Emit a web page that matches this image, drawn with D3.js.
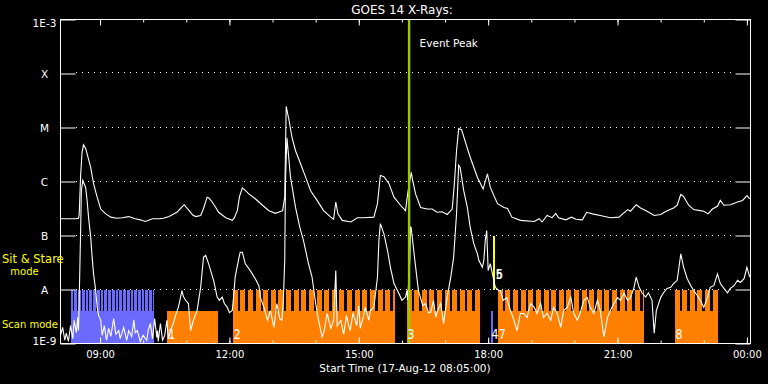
<!DOCTYPE html>
<html>
<head>
<meta charset="utf-8">
<script src="https://cdn.jsdelivr.net/npm/d3@7"></script>
<style>
  html, body { margin: 0; padding: 0; background: #000; }
  svg { display: block; }
</style>
</head>
<body>
<div id="chart"></div>
<script>
// GOES 14 X-ray flux, 17-Aug-12
// time = minutes after 08:05 UT, value = log10(flux W/m^2)
const startTime = Date.UTC(2012, 7, 17, 8, 5);
const spanMinutes = 960;

const longChannel = [
  [0,-6.69],[7,-6.69],[14,-6.69],[21,-6.69],[25,-6.68],[26,-6.61],[28,-5.89],[30,-5.46],[32,-5.32],[35,-5.39],
  [37,-5.49],[42,-5.74],[46,-6.04],[51,-6.29],[56,-6.51],[63,-6.60],[70,-6.66],[78,-6.68],[86,-6.67],[95,-6.65],
  [104,-6.69],[111,-6.71],[118,-6.74],[128,-6.69],[137,-6.69],[143,-6.68],[151,-6.65],[162,-6.57],[167,-6.50],[172,-6.43],
  [179,-6.54],[184,-6.62],[188,-6.65],[195,-6.63],[199,-6.50],[204,-6.29],[207,-6.31],[211,-6.38],[216,-6.48],[220,-6.57],
  [230,-6.67],[239,-6.72],[242,-6.67],[246,-6.54],[249,-6.28],[253,-6.12],[256,-6.15],[262,-6.23],[271,-6.32],[281,-6.44],
  [290,-6.54],[299,-6.59],[309,-6.54],[312,-6.29],[313,-5.43],[314,-4.61],[318,-4.87],[322,-5.18],[327,-5.43],[334,-5.67],
  [341,-5.92],[348,-6.17],[357,-6.35],[366,-6.54],[376,-6.66],[380,-6.70],[383,-6.38],[386,-6.60],[392,-6.72],[404,-6.75],
  [413,-6.67],[422,-6.67],[436,-6.66],[441,-6.41],[445,-5.89],[450,-5.91],[457,-6.04],[464,-6.29],[473,-6.44],[480,-6.54],
  [483,-6.23],[488,-5.83],[490,-5.98],[494,-6.23],[501,-6.48],[510,-6.51],[517,-6.51],[524,-6.57],[531,-6.56],[538,-6.61],
  [545,-6.51],[548,-6.04],[551,-5.43],[554,-5.02],[558,-5.04],[564,-5.30],[570,-5.55],[580,-5.92],[588,-6.14],[594,-5.86],
  [598,-6.11],[608,-6.41],[617,-6.48],[622,-6.50],[628,-6.66],[640,-6.72],[659,-6.74],[666,-6.69],[670,-6.75],[677,-6.63],
  [684,-6.67],[689,-6.59],[693,-6.67],[703,-6.71],[711,-6.66],[717,-6.70],[726,-6.71],[732,-6.57],[740,-6.60],[751,-6.63],
  [765,-6.67],[777,-6.66],[789,-6.52],[793,-6.55],[801,-6.43],[807,-6.49],[816,-6.55],[826,-6.63],[835,-6.61],[844,-6.54],
  [853,-6.49],[858,-6.44],[863,-6.24],[867,-6.28],[874,-6.44],[881,-6.52],[890,-6.54],[895,-6.55],[901,-6.60],[907,-6.51],
  [914,-6.46],[918,-6.35],[923,-6.44],[932,-6.43],[942,-6.38],[949,-6.35],[955,-6.26],[959,-6.32]
];

const shortChannel = [
  [0,-8.85],[3,-8.70],[6,-8.94],[8,-8.81],[11,-8.96],[14,-8.67],[17,-8.91],[19,-8.57],[22,-8.80],[24,-8.52],
  [25,-8.76],[26,-8.20],[28,-6.91],[29,-6.17],[31,-5.98],[35,-6.11],[37,-6.35],[39,-6.66],[42,-7.03],[44,-7.40],
  [46,-7.71],[49,-8.02],[51,-8.33],[53,-8.48],[56,-8.57],[58,-8.85],[61,-8.67],[64,-8.94],[67,-8.72],[70,-8.87],
  [74,-8.54],[77,-8.83],[81,-8.76],[83,-8.91],[88,-8.70],[92,-8.94],[95,-8.76],[99,-8.87],[102,-8.56],[104,-8.80],
  [107,-8.76],[111,-8.96],[115,-8.85],[120,-8.94],[122,-8.76],[125,-8.63],[128,-8.91],[131,-8.54],[134,-8.89],[135,-8.76],
  [136,-8.96],[139,-8.63],[142,-8.94],[145,-8.85],[148,-8.57],[150,-8.91],[153,-8.76],[157,-8.63],[160,-8.48],[164,-8.33],
  [169,-8.02],[171,-8.13],[174,-8.20],[178,-8.26],[181,-8.76],[185,-8.57],[190,-8.39],[195,-7.96],[199,-7.40],[202,-7.37],
  [206,-7.52],[213,-7.83],[218,-8.14],[221,-8.20],[225,-8.14],[228,-8.26],[232,-8.33],[235,-8.43],[239,-8.39],[241,-8.11],
  [243,-7.77],[248,-7.43],[250,-7.31],[253,-7.31],[257,-7.52],[264,-7.65],[271,-7.80],[276,-7.93],[278,-8.14],[283,-8.33],
  [288,-8.57],[292,-8.39],[297,-8.70],[301,-8.26],[305,-8.54],[308,-8.57],[310,-8.20],[312,-7.46],[313,-5.98],[315,-5.19],
  [316,-5.33],[320,-5.92],[327,-6.48],[333,-6.85],[338,-7.09],[345,-7.52],[350,-7.77],[355,-8.26],[359,-8.57],[364,-8.88],
  [367,-8.76],[371,-8.44],[376,-8.72],[380,-8.57],[383,-7.65],[385,-8.67],[390,-8.57],[394,-8.83],[398,-8.48],[401,-8.67],
  [403,-8.76],[407,-8.43],[412,-8.67],[415,-8.30],[417,-8.72],[422,-8.48],[424,-8.33],[429,-8.57],[431,-8.39],[436,-8.33],
  [441,-7.77],[443,-7.09],[445,-6.78],[450,-6.97],[455,-7.28],[459,-7.59],[464,-7.89],[471,-8.08],[475,-8.20],[480,-8.14],
  [482,-8.02],[483,-8.20],[486,-7.46],[487,-6.83],[488,-6.87],[493,-7.46],[498,-8.02],[504,-8.30],[508,-8.26],[512,-8.43],
  [515,-8.42],[519,-8.20],[522,-8.51],[526,-8.35],[529,-8.26],[533,-8.63],[538,-8.14],[543,-7.77],[547,-7.40],[551,-6.60],
  [554,-5.70],[556,-5.74],[561,-6.17],[566,-6.48],[570,-6.85],[575,-7.15],[580,-7.34],[582,-7.46],[587,-7.59],[589,-7.46],
  [591,-7.09],[593,-6.91],[595,-7.65],[598,-7.52],[600,-7.65],[605,-7.96],[610,-8.02],[612,-8.02],[616,-8.20],[621,-8.15],
  [626,-8.39],[631,-8.57],[635,-8.76],[640,-8.44],[645,-8.45],[649,-8.52],[654,-8.26],[659,-8.33],[663,-8.44],[668,-8.26],
  [672,-8.52],[677,-8.44],[682,-8.57],[686,-8.33],[691,-8.44],[696,-8.70],[700,-8.39],[705,-8.33],[710,-8.14],[714,-8.44],
  [719,-8.57],[723,-8.44],[728,-8.20],[733,-8.15],[737,-8.33],[742,-8.44],[747,-8.20],[751,-8.39],[756,-8.88],[761,-8.52],
  [765,-8.39],[770,-8.26],[775,-8.15],[779,-8.20],[784,-8.07],[789,-8.20],[793,-8.15],[798,-7.96],[801,-7.77],[805,-7.96],
  [809,-8.06],[814,-8.14],[818,-8.06],[823,-8.20],[826,-8.81],[829,-8.39],[835,-8.15],[839,-8.06],[844,-7.98],[849,-7.96],
  [853,-7.89],[858,-7.83],[863,-7.34],[867,-7.59],[872,-7.80],[877,-7.93],[881,-8.02],[886,-8.11],[890,-8.20],[895,-8.33],
  [900,-8.15],[904,-7.96],[909,-7.93],[914,-7.71],[918,-7.89],[923,-7.98],[928,-8.06],[932,-7.98],[937,-7.93],[942,-7.83],
  [946,-7.87],[951,-7.80],[955,-7.59],[959,-7.77]
];

const yTickValues = [1e-9, 1e-8, 1e-7, 1e-6, 1e-5, 1e-4, 1e-3];
const yTickLabels = ['1E-9', 'A', 'B', 'C', 'M', 'X', '1E-3'];
const gridLevels = [1e-8, 1e-7, 1e-6, 1e-5, 1e-4];
const xTickLabels = ['09:00', '12:00', '15:00', '18:00', '21:00', '00:00'];

const eventPeak = 485; // minutes after start

// scan-mode observations: [label, group, start, end, raster cadence, raster dwell] (minutes)
const scanObs = [
  ['',  'a', 14,    130,   5.2,  4.0],
  ['1', 'b', 148.5, 219.5, 0,    0],
  ['2', 'b', 239.7, 464.7, 10.6, 7],
  ['3', 'b', 481.4, 584.3, 10.6, 7],
  ['4', 'a', 598.3, 602,   0,    0],
  ['7', 'b', 608.4, 812.5, 10.6, 7],
  ['8', 'b', 854.3, 914.1, 10.6, 7]
];
// sit & stare observations: [label, start, end]
const stareObs = [
  ['5', 601.4, 604.4],
  ['6', 602.2, 605.2]
];

const width = 768, height = 384;
const plotLeft = 60.5, plotRight = 750.5, plotTop = 19.5, plotBottom = 343.5;

const toDate = m => new Date(startTime + m * 60000);

const svg = d3.select('#chart').append('svg')
    .attr('width', width)
    .attr('height', height)
    .style('background', '#000');

const x = d3.scaleUtc()
    .domain([toDate(0), toDate(spanMinutes)])
    .range([plotLeft, plotRight]);

const y = d3.scaleLog()
    .domain([1e-9, 1e-3])
    .range([plotBottom, plotTop]);

// pixel-snapped x position for the mode bars
const px = m => Math.round(x(toDate(m)));

const groupColor = d3.scaleOrdinal().domain(['a', 'b']).range(['#6a6aff', '#ff8000']);

// mode band: rasters between A level and split, solid scan bar below
const bandTop = Math.round(y(1e-8));
const bandBottom = Math.round(y(1e-9));
const bandSplit = bandBottom - 33;

const font = '"DejaVu Sans", sans-serif';

svg.append('defs').append('clipPath').attr('id', 'plot-clip')
    .append('rect')
    .attr('x', plotLeft).attr('y', plotTop)
    .attr('width', plotRight - plotLeft).attr('height', plotBottom - plotTop);

// Scan mode bars
const obsG = svg.append('g').attr('shape-rendering', 'crispEdges');
scanObs.forEach(([label, group, s, e, cadence, dwell]) => {
    const full = cadence > 0;
    obsG.append('rect')
        .attr('x', px(s))
        .attr('y', full ? bandTop : bandSplit)
        .attr('width', px(e) - px(s))
        .attr('height', bandBottom - (full ? bandTop : bandSplit))
        .attr('fill', groupColor(group));
    if (full) {
        // dark gaps between consecutive rasters
        const gaps = d3.range(s, e, cadence).map(d => d + dwell).filter(d => d < e);
        obsG.selectAll(null)
            .data(gaps)
            .enter()
            .append('rect')
            .attr('x', d => px(d))
            .attr('y', bandTop)
            .attr('width', d => Math.max(px(Math.min(d + cadence - dwell, e)) - px(d), 1))
            .attr('height', bandSplit - bandTop)
            .attr('fill', '#000');
    }
});

// Sit & stare bars
stareObs.forEach(([label, s, e]) => {
    obsG.append('rect')
        .attr('x', px(s))
        .attr('y', Math.round(y(1e-7)))
        .attr('width', Math.max(px(e) - px(s), 1))
        .attr('height', bandTop - Math.round(y(1e-7)))
        .attr('fill', '#ffff00');
});

// Dotted grid lines
svg.append('g')
    .selectAll('line')
    .data(gridLevels)
    .enter()
    .append('line')
    .attr('x1', plotLeft + 15.5)
    .attr('x2', plotRight - 15)
    .attr('y1', d => Math.round(y(d)) - 0.5)
    .attr('y2', d => Math.round(y(d)) - 0.5)
    .attr('stroke', '#fff')
    .attr('stroke-width', 1)
    .attr('stroke-dasharray', '1 5');

// Flux curves
const line = d3.line()
    .x(d => x(toDate(d[0])))
    .y(d => y(Math.pow(10, d[1])));

const curves = svg.append('g').attr('clip-path', 'url(#plot-clip)');
[shortChannel, longChannel].forEach(series => {
    curves.append('path')
        .datum(series)
        .attr('fill', 'none')
        .attr('stroke', '#fff')
        .attr('stroke-width', 1.1)
        .attr('d', line);
});

// Event peak
svg.append('line')
    .attr('x1', x(toDate(eventPeak)))
    .attr('x2', x(toDate(eventPeak)))
    .attr('y1', plotTop)
    .attr('y2', plotBottom)
    .attr('stroke', '#99cc00')
    .attr('stroke-width', 2.4);

svg.append('text')
    .attr('x', x(toDate(eventPeak)) + 10.5)
    .attr('y', 46.5)
    .attr('font-family', font)
    .attr('font-size', '10.5px')
    .attr('fill', '#fff')
    .text('Event Peak');

// Observation numbers (narrow digits, like the plotting font)
const labelG = svg.append('g')
    .attr('font-family', font)
    .attr('font-size', '14px')
    .attr('fill', '#fff');
scanObs.filter(d => d[0]).forEach(([label, group, s]) => {
    labelG.append('text')
        .attr('transform', `translate(${x(toDate(s)) + 1},${plotBottom - 4.5}) scale(0.78,1)`)
        .text(label);
});
stareObs.forEach(([label, s, e]) => {
    labelG.append('text')
        .attr('transform', `translate(${x(toDate(e)) + 0.5},${y(1e-8) - 11}) scale(0.78,1)`)
        .text(label);
});

// Frame
svg.append('rect')
    .attr('x', plotLeft).attr('y', plotTop)
    .attr('width', plotRight - plotLeft).attr('height', plotBottom - plotTop)
    .attr('fill', 'none')
    .attr('stroke', '#fff')
    .attr('stroke-width', 1);

// Time axes
const majorTicks = xTickLabels.map(lbl => {
    const [hh, mm] = lbl.split(':').map(Number);
    let t = Date.UTC(2012, 7, 17, hh, mm);
    if (t < startTime) t += 86400000;
    return new Date(t);
});
const hourTicks = d3.utcHour.range(toDate(0), toDate(spanMinutes));

function styleAxis(g) {
    g.select('.domain').remove();
    g.attr('color', '#fff');
}

svg.append('g').attr('transform', `translate(0,${plotBottom})`)
    .call(d3.axisBottom(x).tickValues(hourTicks).tickSize(-3).tickFormat(''))
    .call(styleAxis);
svg.append('g').attr('transform', `translate(0,${plotTop})`)
    .call(d3.axisTop(x).tickValues(hourTicks).tickSize(-3).tickFormat(''))
    .call(styleAxis);
svg.append('g').attr('transform', `translate(0,${plotTop})`)
    .call(d3.axisTop(x).tickValues(majorTicks).tickSize(-6).tickFormat(''))
    .call(styleAxis);
svg.append('g').attr('transform', `translate(0,${plotBottom})`)
    .call(d3.axisBottom(x).tickValues(majorTicks).tickSize(-6).tickPadding(7)
        .tickFormat((d, i) => xTickLabels[i]))
    .call(styleAxis)
    .call(g => g.selectAll('text')
        .attr('font-family', font)
        .attr('font-size', '10px'));

// Flux axes
svg.append('g').attr('transform', `translate(${plotLeft},0)`)
    .call(d3.axisLeft(y).tickValues(yTickValues).tickSize(-15)
        .tickFormat((d, i) => yTickLabels[i]))
    .call(styleAxis)
    .call(g => g.selectAll('text')
        .attr('font-family', font)
        .attr('font-size', '10.5px')
        .attr('text-anchor', 'middle')
        .attr('x', -16)
        .attr('dy', (d, i) => i === 0 ? '0.05em' : i === yTickValues.length - 1 ? '0.65em' : '0.35em'));
svg.append('g').attr('transform', `translate(${plotRight},0)`)
    .call(d3.axisRight(y).tickValues(yTickValues).tickSize(-15).tickFormat(''))
    .call(styleAxis);

// Titles
svg.append('text')
    .attr('x', 402)
    .attr('y', 14)
    .attr('text-anchor', 'middle')
    .attr('font-family', font)
    .attr('font-size', '12px')
    .attr('fill', '#fff')
    .text('GOES 14 X-Rays:');

svg.append('text')
    .attr('x', 405)
    .attr('y', 371.5)
    .attr('text-anchor', 'middle')
    .attr('font-family', font)
    .attr('font-size', '10.5px')
    .attr('fill', '#fff')
    .text('Start Time (17-Aug-12 08:05:00)');

// Mode legend
const modeG = svg.append('g')
    .attr('font-family', font)
    .attr('fill', '#ffff00');
modeG.append('text').attr('x', 2).attr('y', 263).attr('font-size', '11.5px').text('Sit & Stare');
modeG.append('text').attr('x', 24.5).attr('y', 275).attr('text-anchor', 'middle')
    .attr('font-size', '10px').text('mode');
modeG.append('text').attr('x', 2).attr('y', 328).attr('font-size', '10px').text('Scan mode');
</script>
</body>
</html>
